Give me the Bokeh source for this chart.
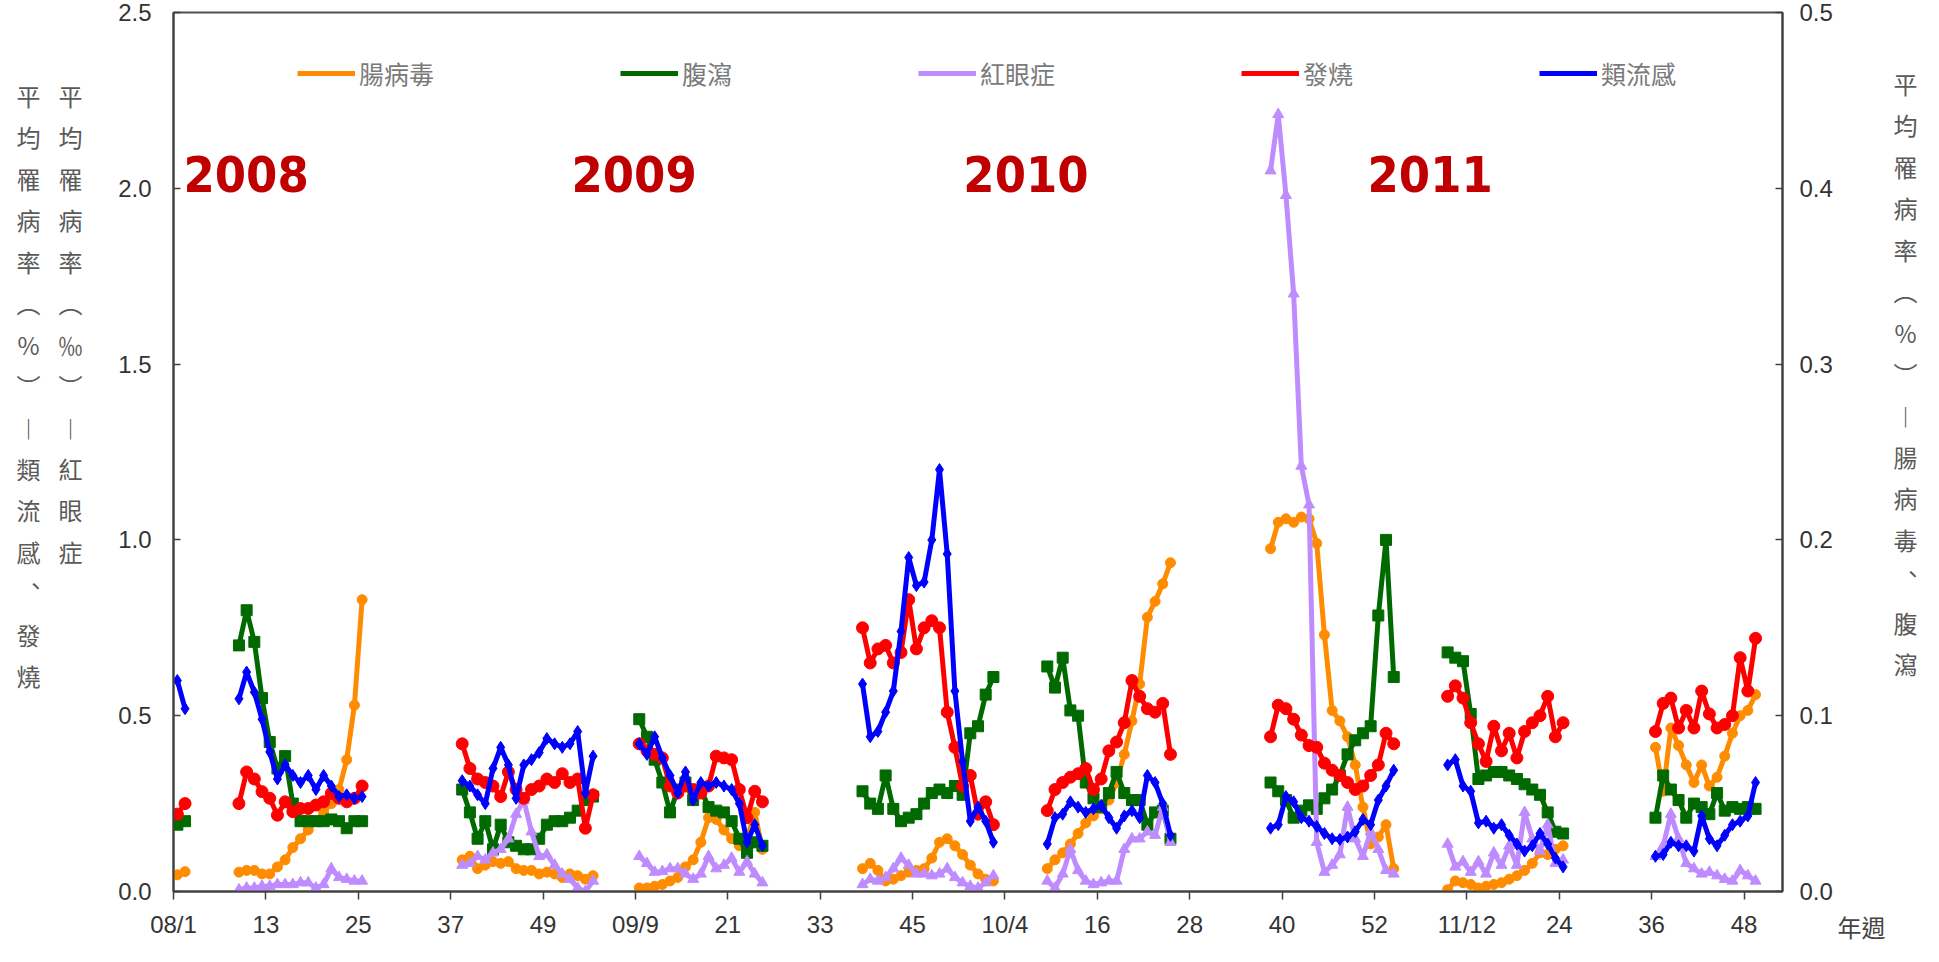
from bokeh.plotting import figure
from bokeh.layouts import row
from bokeh.models import (Range1d, LinearAxis, FixedTicker, Label, Legend, LegendItem,
                          PrintfTickFormatter, ColumnDataSource)
from bokeh.core.properties import value
from bokeh.embed import file_html
from bokeh.resources import INLINE
import numpy as np

# ---------------- data ----------------
# first week index (0 = 2008 week 1) of each surveillance segment
seg_start = [0, 8, 37, 60, 89, 113, 142, 165, 192]

# 腸病毒 (right axis, %)
enterovirus = [
    [0.0095, 0.0113],
    [0.011, 0.012, 0.012, 0.010, 0.010, 0.014, 0.018, 0.025, 0.030, 0.035, 0.040, 0.045, 0.050, 0.058, 0.075, 0.106, 0.166],
    [0.018, 0.020, 0.013, 0.015, 0.017, 0.016, 0.017, 0.013, 0.012, 0.012, 0.010, 0.011, 0.010, 0.008, 0.010, 0.009, 0.007, 0.009],
    [0.002, 0.002, 0.003, 0.004, 0.006, 0.008, 0.014, 0.018, 0.028, 0.042, 0.041, 0.035, 0.030, 0.026, 0.030, 0.045, 0.024],
    [0.013, 0.016, 0.012, 0.006, 0.007, 0.009, 0.011, 0.012, 0.013, 0.019, 0.028, 0.030, 0.026, 0.021, 0.015, 0.010, 0.007, 0.006],
    [0.013, 0.018, 0.022, 0.027, 0.033, 0.039, 0.043, 0.047, 0.052, 0.062, 0.078, 0.097, 0.118, 0.156, 0.165, 0.175, 0.187],
    [0.195, 0.210, 0.212, 0.210, 0.213, 0.212, 0.198, 0.146, 0.103, 0.097, 0.088, 0.072, 0.048, 0.027, 0.031, 0.038, 0.013],
    [0.001, 0.006, 0.005, 0.004, 0.002, 0.003, 0.004, 0.005, 0.007, 0.009, 0.012, 0.016, 0.022, 0.021, 0.024, 0.026],
    [0.082, 0.057, 0.093, 0.083, 0.072, 0.062, 0.072, 0.060, 0.065, 0.077, 0.090, 0.100, 0.103, 0.112],
]
# 腹瀉 (right axis, %)
diarrhea = [
    [0.038, 0.040],
    [0.140, 0.160, 0.142, 0.110, 0.085, 0.070, 0.077, 0.050, 0.040, 0.040, 0.040, 0.040, 0.041, 0.040, 0.036, 0.040, 0.040],
    [0.058, 0.045, 0.030, 0.040, 0.024, 0.038, 0.028, 0.026, 0.024, 0.024, 0.030, 0.038, 0.040, 0.040, 0.042, 0.046, 0.052, 0.054],
    [0.098, 0.088, 0.075, 0.062, 0.045, 0.058, 0.062, 0.052, 0.058, 0.048, 0.046, 0.045, 0.040, 0.030, 0.022, 0.028, 0.026],
    [0.057, 0.050, 0.047, 0.066, 0.047, 0.040, 0.042, 0.044, 0.050, 0.056, 0.058, 0.056, 0.060, 0.055, 0.090, 0.094, 0.112, 0.122],
    [0.128, 0.116, 0.133, 0.103, 0.100, 0.062, 0.053, 0.048, 0.056, 0.068, 0.056, 0.052, 0.052, 0.038, 0.045, 0.046, 0.030],
    [0.062, 0.057, 0.052, 0.042, 0.046, 0.049, 0.047, 0.053, 0.058, 0.066, 0.078, 0.086, 0.090, 0.094, 0.157, 0.200, 0.122],
    [0.136, 0.133, 0.131, 0.101, 0.064, 0.066, 0.068, 0.068, 0.066, 0.064, 0.061, 0.058, 0.055, 0.045, 0.034, 0.033],
    [0.042, 0.066, 0.058, 0.052, 0.042, 0.050, 0.048, 0.044, 0.056, 0.046, 0.048, 0.047, 0.048, 0.047],
]
# 紅眼症 (left axis, ‰)
conjunctivitis = [
    [],
    [0.005, 0.010, 0.010, 0.015, 0.015, 0.020, 0.020, 0.020, 0.025, 0.025, 0.010, 0.020, 0.065, 0.040, 0.035, 0.030, 0.030],
    [0.075, 0.080, 0.100, 0.090, 0.110, 0.120, 0.150, 0.220, 0.260, 0.170, 0.100, 0.105, 0.075, 0.050, 0.035, 0.010, 0.000, 0.030],
    [0.100, 0.080, 0.055, 0.057, 0.065, 0.065, 0.050, 0.035, 0.050, 0.100, 0.065, 0.075, 0.095, 0.055, 0.085, 0.050, 0.025],
    [0.020, 0.035, 0.030, 0.040, 0.065, 0.095, 0.075, 0.050, 0.050, 0.045, 0.050, 0.065, 0.040, 0.025, 0.015, 0.010, 0.025, 0.045],
    [0.030, 0.010, 0.050, 0.120, 0.060, 0.030, 0.020, 0.025, 0.030, 0.030, 0.120, 0.150, 0.150, 0.170, 0.160, 0.240, 0.140],
    [2.05, 2.21, 1.98, 1.70, 1.21, 1.10, 0.14, 0.055, 0.075, 0.105, 0.24, 0.15, 0.10, 0.17, 0.12, 0.06, 0.05],
    [0.135, 0.070, 0.085, 0.055, 0.085, 0.050, 0.110, 0.075, 0.130, 0.075, 0.225, 0.150, 0.115, 0.190, 0.080, 0.090],
    [0.10, 0.13, 0.22, 0.15, 0.08, 0.065, 0.05, 0.055, 0.045, 0.035, 0.03, 0.06, 0.045, 0.03],
]
# 發燒 (left axis, %)
fever = [
    [0.22, 0.25],
    [0.25, 0.34, 0.32, 0.284, 0.265, 0.217, 0.255, 0.227, 0.236, 0.236, 0.246, 0.255, 0.279, 0.265, 0.255, 0.265, 0.30],
    [0.42, 0.35, 0.32, 0.31, 0.30, 0.27, 0.34, 0.29, 0.265, 0.29, 0.30, 0.32, 0.31, 0.335, 0.31, 0.32, 0.18, 0.275],
    [0.42, 0.40, 0.39, 0.38, 0.30, 0.28, 0.30, 0.29, 0.28, 0.30, 0.385, 0.38, 0.375, 0.29, 0.21, 0.285, 0.255],
    [0.75, 0.65, 0.69, 0.70, 0.65, 0.68, 0.83, 0.69, 0.75, 0.77, 0.75, 0.51, 0.41, 0.30, 0.33, 0.22, 0.255, 0.19],
    [0.23, 0.29, 0.31, 0.325, 0.335, 0.35, 0.29, 0.32, 0.40, 0.425, 0.48, 0.60, 0.555, 0.52, 0.51, 0.535, 0.39],
    [0.44, 0.53, 0.52, 0.49, 0.445, 0.415, 0.41, 0.365, 0.345, 0.33, 0.31, 0.29, 0.30, 0.33, 0.36, 0.45, 0.42],
    [0.555, 0.585, 0.55, 0.48, 0.42, 0.37, 0.47, 0.40, 0.45, 0.38, 0.455, 0.48, 0.50, 0.555, 0.44, 0.48],
    [0.455, 0.535, 0.55, 0.465, 0.515, 0.465, 0.57, 0.505, 0.465, 0.475, 0.50, 0.665, 0.57, 0.72],
]
# 類流感 (left axis, %)
flu = [
    [0.60, 0.52],
    [0.548, 0.624, 0.567, 0.49, 0.397, 0.32, 0.36, 0.33, 0.31, 0.33, 0.29, 0.33, 0.30, 0.27, 0.275, 0.265, 0.27],
    [0.315, 0.30, 0.275, 0.25, 0.35, 0.41, 0.36, 0.265, 0.36, 0.375, 0.395, 0.435, 0.42, 0.41, 0.42, 0.455, 0.28, 0.385],
    [0.42, 0.39, 0.44, 0.38, 0.33, 0.28, 0.34, 0.26, 0.31, 0.30, 0.31, 0.30, 0.29, 0.25, 0.14, 0.19, 0.13],
    [0.59, 0.44, 0.455, 0.51, 0.57, 0.74, 0.95, 0.87, 0.88, 1.0, 1.2, 0.96, 0.57, 0.37, 0.20, 0.24, 0.20, 0.14],
    [0.135, 0.21, 0.22, 0.255, 0.24, 0.225, 0.235, 0.245, 0.21, 0.18, 0.215, 0.23, 0.21, 0.33, 0.31, 0.25, 0.16],
    [0.18, 0.19, 0.27, 0.255, 0.21, 0.20, 0.185, 0.165, 0.15, 0.148, 0.155, 0.17, 0.205, 0.19, 0.26, 0.30, 0.345],
    [0.36, 0.375, 0.30, 0.285, 0.195, 0.20, 0.18, 0.19, 0.16, 0.135, 0.115, 0.13, 0.165, 0.135, 0.095, 0.07],
    [0.10, 0.105, 0.14, 0.13, 0.13, 0.115, 0.215, 0.15, 0.13, 0.16, 0.19, 0.20, 0.215, 0.31],
]

tick_weeks = [0, 12, 24, 36, 48, 60, 72, 84, 96, 108, 120, 132, 144, 156, 168, 180, 192, 204]
tick_labels = ["08/1", "13", "25", "37", "49", "09/9", "21", "33", "45", "10/4",
               "16", "28", "40", "52", "11/12", "24", "36", "48"]
n_weeks = 209  # 2008w1 .. 2011w52

year_texts = ["2008", "2009", "2010", "2011"]
year_text_x = [1.3, 51.7, 102.6, 155.1]
year_text_y = 2.04

series_names = ["腸病毒", "腹瀉", "紅眼症", "發燒", "類流感"]
series_data = [enterovirus, diarrhea, conjunctivitis, fever, flu]
series_colors = ["#FF8C00", "#006A00", "#BF8CFF", "#FF0000", "#0000FF"]
series_markers = ["circle", "square", "triangle", "circle", "diamond"]
series_sizes = [10, 11, 11, 12, 12]
series_axis = ["right", "right", "default", "default", "default"]

left_title_1 = "平均罹病率︵%︶︱類流感︑發燒"
left_title_2 = "平均罹病率︵‰︶︱紅眼症"
right_title = "平均罹病率︵%︶︱腸病毒︑腹瀉"
x_unit_text = "年週"


def build(segs):
    xs, ys = [], []
    for s, vals in zip(seg_start, segs):
        if not vals:
            continue
        xs.extend([s + j + 0.5 for j in range(len(vals))])
        ys.extend(vals)
        xs.append(np.nan)
        ys.append(np.nan)
    return xs, ys


# ---------------- layout sizes ----------------
H = 946
LW, MW, RW = 100, 1735, 88          # left title strip, main chart, right title strip
FL, FR, FT, FB = 73, 52, 12, 54     # main chart borders
RS_LEFT = 26                        # right strip: border left of its frame
frame_top_px = 8 + FT
frame_bottom_px = 8 + H - FB

cjk = "Noto Sans CJK TC"
tick_font = "Liberation Sans"
axis_color = "#404040"
label_color = "#333333"

# ---------------- main chart ----------------
p = figure(width=MW, height=H, x_range=Range1d(0, n_weeks), y_range=Range1d(0, 2.5),
           output_backend="svg", toolbar_location=None,
           min_border_left=FL, min_border_right=FR, min_border_top=FT, min_border_bottom=FB)
p.extra_y_ranges = {"right": Range1d(0, 0.5)}
p.xgrid.visible = False
p.ygrid.visible = False
p.outline_line_color = "#505050"
p.outline_line_width = 2
p.background_fill_color = "white"
p.border_fill_color = "white"

xa = p.xaxis[0]
xa.ticker = FixedTicker(ticks=tick_weeks)
xa.major_label_overrides = {w: t for w, t in zip(tick_weeks, tick_labels)}
xa.major_tick_in = 0
xa.major_tick_out = 8
xa.major_label_standoff = 11

ya = p.yaxis[0]
ya.ticker = FixedTicker(ticks=[0, 0.5, 1.0, 1.5, 2.0, 2.5])
ya.formatter = PrintfTickFormatter(format="%.1f")
ya.major_tick_in = 7
ya.major_tick_out = 0
ya.major_label_standoff = 22

ra = LinearAxis(y_range_name="right", ticker=FixedTicker(ticks=[0, 0.1, 0.2, 0.3, 0.4, 0.5]),
                formatter=PrintfTickFormatter(format="%.1f"))
ra.major_tick_in = 7
ra.major_tick_out = 0
ra.major_label_standoff = 17
p.add_layout(ra, "right")

for ax in (xa, ya, ra):
    ax.minor_tick_line_color = None
    ax.axis_line_width = 2
    ax.axis_line_color = axis_color
    ax.major_tick_line_color = axis_color
    ax.major_tick_line_width = 1.5
    ax.major_label_text_font = tick_font
    ax.major_label_text_font_size = "24px"
    ax.major_label_text_color = label_color

legend_items = []
for name, data, col, mk, sz, ax in zip(series_names, series_data, series_colors,
                                       series_markers, series_sizes, series_axis):
    xs, ys = build(data)
    src = ColumnDataSource(dict(x=xs, y=ys))
    kw = {} if ax == "default" else {"y_range_name": ax}
    ln = p.line("x", "y", source=src, line_color=col, line_width=5, line_join="round", **kw)
    p.scatter("x", "y", source=src, marker=mk, size=sz, fill_color=col, line_color=col, **kw)
    legend_items.append(LegendItem(label=name, renderers=[ln]))

legend = Legend(items=legend_items, orientation="horizontal", location=(124, 800),
                spacing=186, glyph_width=58, glyph_height=30, label_height=30,
                label_standoff=4, padding=0, margin=0, border_line_color=None,
                background_fill_alpha=0, label_text_font=cjk, label_text_font_size="25px",
                label_text_color="#7a7a7a", label_text_baseline="middle")
p.add_layout(legend)

for t, x in zip(year_texts, year_text_x):
    p.add_layout(Label(x=x, y=year_text_y, text=t, text_font="DejaVu Sans Condensed, DejaVu Sans",
                       text_font_style="bold", text_font_size="50px", text_color="#C00000",
                       text_align="left", text_baseline="middle"))

# ---------------- title strips (coordinates = page pixels) ----------------
pitch = 41.5


def strip(width, x0, left_border=0):
    # the frame of a plot in a row is aligned with the main chart frame (page y 20..900)
    f = figure(width=width, height=H, x_range=Range1d(x0 + left_border, x0 + width),
               y_range=Range1d(frame_bottom_px, frame_top_px),
               output_backend="svg", toolbar_location=None, x_axis_type=None, y_axis_type=None,
               min_border_left=left_border, min_border_right=0,
               min_border_top=FT, min_border_bottom=FB)
    f.outline_line_color = None
    f.background_fill_color = "white"
    f.border_fill_color = "white"
    return f


def vertical(f, text, sx, sy0):
    n = len(text)
    f.text(x=[sx] * n, y=[sy0 + k * pitch for k in range(n)], text=list(text),
           text_font=value(cjk), text_font_size=value("24px"), text_color="#5a5a5a",
           text_align="center", text_baseline="middle")


left_strip = strip(LW, 8)
vertical(left_strip, left_title_1, 36, 103)
vertical(left_strip, left_title_2, 78, 103)

right_x0 = 8 + LW + MW
right_strip = strip(RW, right_x0, RS_LEFT)
vertical(right_strip, right_title, 1913, 91)

# unit label under the right end of the axis, centred on the right strip's frame start
unit_axis = LinearAxis(ticker=FixedTicker(ticks=[]), axis_line_color=None,
                       major_tick_line_color=None, minor_tick_line_color=None,
                       major_tick_in=0, major_tick_out=0, major_label_standoff=0,
                       axis_label=x_unit_text, axis_label_standoff=17,
                       axis_label_align="start",
                       axis_label_text_font=cjk, axis_label_text_font_size="24px",
                       axis_label_text_font_style="normal", axis_label_text_color="#444444")
right_strip.add_layout(unit_axis, "below")

layout = row(left_strip, p, right_strip, spacing=0)
open("out.html", "w").write(file_html(layout, INLINE))
